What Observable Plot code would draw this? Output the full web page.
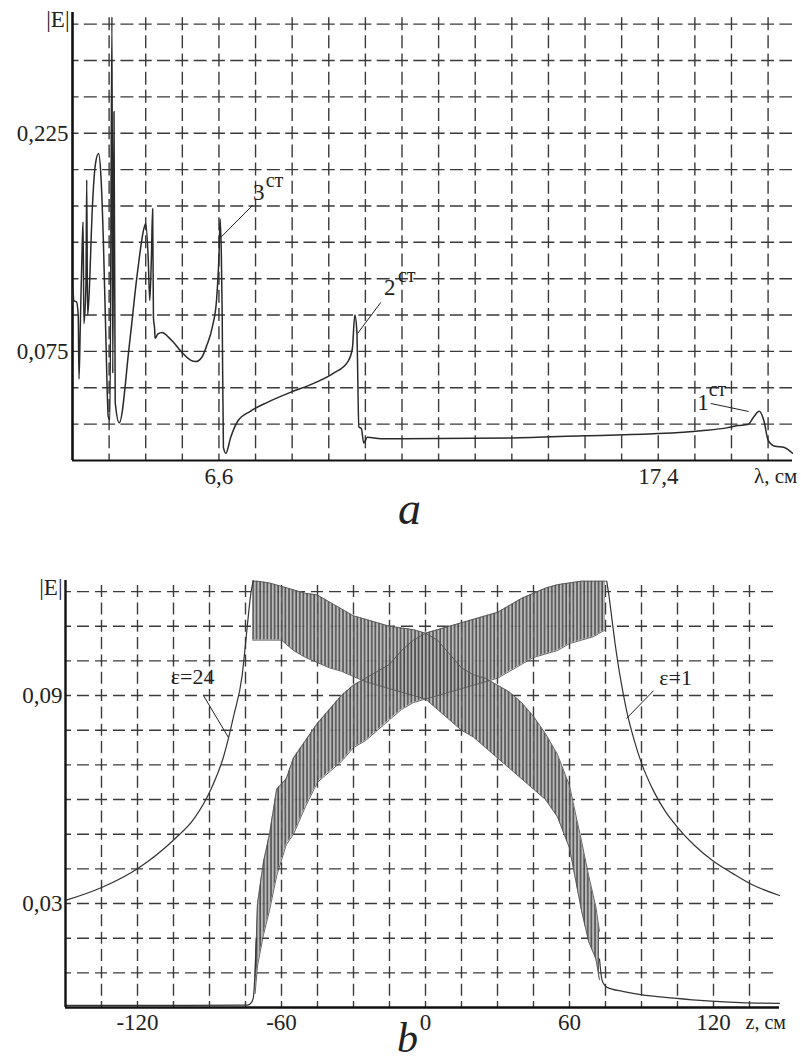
<!DOCTYPE html>
<html>
<head>
<meta charset="utf-8">
<script src="https://cdn.jsdelivr.net/npm/d3@7"></script>
<script src="https://cdn.jsdelivr.net/npm/@observablehq/plot@0.6"></script>
<style>
  body { margin: 0; background: #fff; }
  #wrap { position: relative; width: 801px; height: 1063px; font-family: "Liberation Serif", "Times New Roman", serif; color: #222; }
  .plab { position: absolute; font-style: italic; line-height: 1; color: #222; }
</style>
</head>
<body>
<div id="wrap"></div>
<script>
// ---------- Panel a : |E| versus wavelength λ, cm ----------
const aLambda = [3.00, 3.01, 3.03, 3.10, 3.14, 3.16, 3.19, 3.24, 3.26, 3.28, 3.33, 3.35, 3.37, 3.40, 3.49, 3.56, 3.64, 3.70, 3.76, 3.82, 3.88, 3.92, 3.97, 3.99, 4.02, 4.05, 4.15, 4.40, 4.60, 4.76, 4.80, 4.86, 4.90, 4.94, 4.97, 4.99, 5.02, 5.03, 5.10, 5.21, 5.35, 5.46, 5.70, 5.90, 6.03, 6.18, 6.30, 6.44, 6.54, 6.60, 6.63, 6.66, 6.68, 6.71, 6.77, 6.89, 7.06, 7.38, 7.79, 8.37, 8.93, 9.42, 9.77, 9.88, 9.94, 9.99, 10.04, 10.10, 10.16, 10.25, 10.58, 11.07, 13.78, 15.57, 17.39, 18.45, 19.11, 19.35, 19.60, 19.75, 19.88, 20.00, 20.10, 20.25, 20.50, 20.70];
const aE = [0.107, 0.118, 0.110, 0.109, 0.100, 0.056, 0.090, 0.150, 0.164, 0.094, 0.120, 0.193, 0.100, 0.110, 0.175, 0.203, 0.211, 0.195, 0.150, 0.085, 0.030, 0.028, 0.305, 0.060, 0.240, 0.040, 0.026, 0.080, 0.130, 0.160, 0.163, 0.140, 0.110, 0.140, 0.173, 0.098, 0.090, 0.084, 0.087, 0.088, 0.085, 0.082, 0.074, 0.069, 0.068, 0.071, 0.079, 0.092, 0.110, 0.140, 0.166, 0.140, 0.100, 0.009, 0.005, 0.016, 0.027, 0.034, 0.040, 0.047, 0.053, 0.060, 0.068, 0.077, 0.100, 0.089, 0.023, 0.022, 0.012, 0.016, 0.015, 0.015, 0.0155, 0.017, 0.0185, 0.0205, 0.0226, 0.024, 0.0247, 0.030, 0.0338, 0.027, 0.014, 0.010, 0.009, 0.005];
const aGridX = [3.9, 4.8, 5.7, 6.6, 7.5, 8.4, 9.3, 10.2, 11.1, 12.0, 12.9, 13.8, 14.7, 15.6, 16.5, 17.4, 18.3, 19.2, 20.1];
const aGridY = [0.025, 0.05, 0.075, 0.1, 0.125, 0.15, 0.175, 0.2, 0.225, 0.25, 0.275, 0.3];
const aTickX = [6.6, 17.4];
const aTickXText = ["6,6", "17,4"];
const aTickY = [0.075, 0.225];
const aTickYText = ["0,075", "0,225"];
const aAnnText = ["3", "2", "1"];
const aAnnX = [7.58, 10.80, 18.50];
const aAnnY = [0.1844, 0.1187, 0.0399];
const aSupX = [7.75, 11.0, 18.64];
const aSupY = [0.1926, 0.127, 0.0488];
const aLeadX1 = [7.43, 10.58, 18.69];
const aLeadY1 = [0.1755, 0.1087, 0.0392];
const aLeadX2 = [6.65, 10.01, 19.62];
const aLeadY2 = [0.1535, 0.0874, 0.0337];

// ---------- Panel b : |E| versus z, cm ----------
const eps24Z = [-150, -134.7, -119.7, -104.4, -96.5, -89.3, -84, -79.9, -76.4, -74.3, -72.9, -71.8];
const eps24E = [0.0309, 0.0347, 0.0402, 0.0487, 0.0544, 0.0631, 0.0727, 0.0842, 0.0958, 0.1097, 0.1188, 0.1232];
const band1Z  = [-72, -70, -65, -60, -55, -50, -45, -40, -35, -30, -25, -20, -15, -10, -5, 0, 5, 10, 15, 20, 25, 30, 35, 40, 45, 50, 55, 60, 65, 68, 71, 72.5];
const band1Hi = [0.123, 0.123, 0.1225, 0.1215, 0.1205, 0.1195, 0.119, 0.117, 0.115, 0.113, 0.112, 0.111, 0.110, 0.1095, 0.109, 0.108, 0.106, 0.102, 0.098, 0.096, 0.095, 0.093, 0.091, 0.088, 0.084, 0.079, 0.073, 0.064, 0.048, 0.038, 0.029, 0.022];
const band1Lo = [0.106, 0.106, 0.106, 0.106, 0.103, 0.101, 0.0995, 0.098, 0.097, 0.0955, 0.094, 0.093, 0.092, 0.091, 0.090, 0.089, 0.086, 0.083, 0.080, 0.078, 0.075, 0.072, 0.069, 0.066, 0.063, 0.060, 0.055, 0.046, 0.028, 0.019, 0.014, 0.008];
const tail1Z = [72.5, 73.6, 75.7, 82.6, 89.6, 103.5, 117.4, 131.3, 147.5];
const tail1E = [0.014, 0.0078, 0.0058, 0.0046, 0.0037, 0.0027, 0.0019, 0.0014, 0.0012];
const flat2Z = [-150, -100, -74, -72.5, -71.8, -71.1, -70.5];
const flat2E = [0.0006, 0.0006, 0.0007, 0.0015, 0.0026, 0.009, 0.020];
const band2Z  = [-71, -70, -67.5, -65, -62, -58, -55, -50, -45, -40, -35, -30, -25, -20, -15, -10, -5, 0, 5, 10, 15, 20, 25, 30, 35, 40, 45, 50, 55, 60, 65, 70, 75];
const band2Hi = [0.009, 0.030, 0.042, 0.050, 0.063, 0.066, 0.072, 0.077, 0.082, 0.086, 0.090, 0.093, 0.095, 0.097, 0.099, 0.103, 0.106, 0.108, 0.109, 0.110, 0.111, 0.112, 0.113, 0.114, 0.116, 0.118, 0.1195, 0.121, 0.122, 0.1225, 0.123, 0.123, 0.123];
const band2Lo = [0.004, 0.012, 0.021, 0.028, 0.038, 0.047, 0.050, 0.058, 0.065, 0.068, 0.071, 0.075, 0.077, 0.080, 0.083, 0.086, 0.088, 0.089, 0.090, 0.091, 0.092, 0.093, 0.094, 0.095, 0.097, 0.099, 0.101, 0.102, 0.103, 0.105, 0.106, 0.107, 0.109];
const eps1Z = [75.5, 76.5, 77.7, 79, 80.5, 82, 84, 87, 90, 95, 100, 105, 112, 120, 128, 136, 147.5];
const eps1E = [0.123, 0.1185, 0.112, 0.105, 0.098, 0.092, 0.085, 0.077, 0.0705, 0.0625, 0.0565, 0.052, 0.0468, 0.0422, 0.0387, 0.0355, 0.0323];
const bGridX = [-135, -120, -105, -90, -75, -60, -45, -30, -15, 0, 15, 30, 45, 60, 75, 90, 105, 120, 135];
const bGridY = [0.01, 0.02, 0.03, 0.04, 0.05, 0.06, 0.07, 0.08, 0.09, 0.10, 0.11, 0.12];
const bTickX = [-120, -60, 0, 60, 120];
const bTickXText = ["-120", "-60", "0", "60", "120"];
const bTickY = [0.03, 0.09];
const bTickYText = ["0,03", "0,09"];
const bAnnText = ["ε=24", "ε=1"];
const bAnnX = [-97, 104.2];
const bAnnY = [0.0955, 0.0952];
const bLeadX1 = [-92.5, 95];
const bLeadY1 = [0.090, 0.0914];
const bLeadX2 = [-82.1, 83.75];
const bLeadY2 = [0.0779, 0.0834];

// ---------- helpers ----------
const FONT = '"Liberation Serif", "Times New Roman", serif';
const INK = "#222";
const GRID = "#3a3a3a";
const zip2 = (xs, ys) => xs.map((x, i) => ({x, y: ys[i]}));
function dashOffset(s0, d, P) { return (((d / 2 - s0) % P) + P) % P; }
const T = (o) => Object.assign({fontFamily: FONT, fill: INK, fontSize: 23}, o);

function panel(cfg) {
  const {W, H, mL, mR, mT, mB, xDom, yDom, gx, gy, dash} = cfg;
  const pxX = (W - mL - mR) / (xDom[1] - xDom[0]);
  const pxY = (H - mT - mB) / (yDom[1] - yDom[0]);
  const Pv = (gx[1] - gx[0]) * pxX / 2;
  const Ph = (gy[1] - gy[0]) * pxY / 2;
  const s0 = (yDom[1] - gy[gy.length - 1]) * pxY;
  return {
    hRule: {stroke: GRID, strokeWidth: 1.4, strokeDasharray: `${dash},${Pv - dash}`, strokeDashoffset: dashOffset(0, dash, Pv)},
    vRule: {stroke: GRID, strokeWidth: 1.4, strokeDasharray: `${dash},${Ph - dash}`, strokeDashoffset: dashOffset(s0, dash, Ph)}
  };
}

const wrap = document.getElementById("wrap");

// ---------- draw panel a ----------
const A = {W: 801, H: 490, mL: 72, mR: 9, mT: 12, mB: 30, xDom: [3, 20.7], yDom: [0, 0.308], gx: aGridX, gy: aGridY, dash: 13};
const gA = panel(A);
const aLine = zip2(aLambda, aE);
const svgA = Plot.plot({
  width: A.W, height: A.H,
  marginLeft: A.mL, marginRight: A.mR, marginTop: A.mT, marginBottom: A.mB,
  style: {fontFamily: FONT, fontSize: "23px", color: INK, background: "transparent", overflow: "visible"},
  x: {domain: A.xDom, axis: null},
  y: {domain: A.yDom, axis: null},
  marks: [
    Plot.ruleX(aGridX, gA.vRule),
    Plot.ruleY(aGridY, gA.hRule),
    Plot.ruleX([A.xDom[0]], {stroke: "#111", strokeWidth: 2.6}),
    Plot.ruleY([0], {stroke: "#111", strokeWidth: 2.2}),
    Plot.line(aLine, {x: "x", y: "y", stroke: "#2a2a2a", strokeWidth: 1.5, curve: "monotone-x"}),
    Plot.text(aTickX, T({x: d => d, y: 0, text: (d, i) => aTickXText[i], dy: 16})),
    Plot.text(aTickY, T({x: A.xDom[0], y: d => d, text: (d, i) => aTickYText[i], textAnchor: "end", dx: -4})),
    Plot.text(["|E|"], T({x: A.xDom[0], y: 0.3, text: d => d, textAnchor: "end", dx: -3, dy: -5})),
    Plot.text(["λ, см"], T({x: 20.1, y: 0, text: d => d, textAnchor: "start", dx: -14, dy: 16, fontSize: 21})),
    Plot.link(aLeadX1, {x1: d => d, y1: (d, i) => aLeadY1[i], x2: (d, i) => aLeadX2[i], y2: (d, i) => aLeadY2[i], stroke: "#222", strokeWidth: 1}),
    Plot.text(aAnnText, T({x: (d, i) => aAnnX[i], y: (d, i) => aAnnY[i], text: d => d})),
    Plot.text(aAnnText, T({x: (d, i) => aSupX[i], y: (d, i) => aSupY[i], text: () => "ст", textAnchor: "start", fontSize: 20}))
  ]
});
svgA.style.position = "absolute"; svgA.style.left = "0px"; svgA.style.top = "0px";
wrap.appendChild(svgA);

// ---------- draw panel b ----------
const B = {W: 801, H: 492, mL: 65, mR: 22, mT: 35, mB: 30, xDom: [-150, 147.5], yDom: [0, 0.1232], gx: bGridX, gy: bGridY, dash: 12};
const gB = panel(B);
const band1 = band1Z.map((z, i) => ({z, lo: band1Lo[i], hi: band1Hi[i]}));
const band2 = band2Z.map((z, i) => ({z, lo: band2Lo[i], hi: band2Hi[i]}));
const stripeDefs = () => {
  const ns = "http://www.w3.org/2000/svg";
  const defs = document.createElementNS(ns, "defs");
  defs.innerHTML = '<pattern id="osc" patternUnits="userSpaceOnUse" width="3.6" height="8">' +
    '<rect width="3.6" height="8" fill="#b4b4b4"/>' +
    '<line x1="1" y1="0" x2="1" y2="8" stroke="#3c3c3c" stroke-width="1.5"/></pattern>';
  return defs;
};
const svgB = Plot.plot({
  width: B.W, height: B.H,
  marginLeft: B.mL, marginRight: B.mR, marginTop: B.mT, marginBottom: B.mB,
  style: {fontFamily: FONT, fontSize: "23px", color: INK, background: "transparent", overflow: "visible"},
  x: {domain: B.xDom, axis: null},
  y: {domain: B.yDom, axis: null},
  marks: [
    stripeDefs,
    Plot.ruleX(bGridX, gB.vRule),
    Plot.ruleY(bGridY, gB.hRule),
    Plot.areaY(band1, {x: "z", y1: "lo", y2: "hi", fill: "url(#osc)", fillOpacity: 0.92}),
    Plot.areaY(band2, {x: "z", y1: "lo", y2: "hi", fill: "url(#osc)", fillOpacity: 0.92}),
    Plot.line(band1, {x: "z", y: "hi", stroke: "#555", strokeWidth: 0.9}),
    Plot.line(band1, {x: "z", y: "lo", stroke: "#555", strokeWidth: 0.9}),
    Plot.line(band2, {x: "z", y: "hi", stroke: "#555", strokeWidth: 0.9}),
    Plot.line(band2, {x: "z", y: "lo", stroke: "#555", strokeWidth: 0.9}),
    Plot.line(zip2(eps24Z, eps24E), {x: "x", y: "y", stroke: "#333", strokeWidth: 1.2, curve: "monotone-x"}),
    Plot.line(zip2(eps1Z, eps1E), {x: "x", y: "y", stroke: "#333", strokeWidth: 1.2, curve: "monotone-x"}),
    Plot.line(zip2(tail1Z, tail1E), {x: "x", y: "y", stroke: "#333", strokeWidth: 1.2, curve: "monotone-x"}),
    Plot.line(zip2(flat2Z, flat2E), {x: "x", y: "y", stroke: "#333", strokeWidth: 1.2, curve: "monotone-x"}),
    Plot.ruleX([B.xDom[0]], {stroke: "#111", strokeWidth: 2.4}),
    Plot.ruleY([0], {stroke: "#111", strokeWidth: 2.4}),
    Plot.text(bTickX, T({x: d => d, y: 0, text: (d, i) => bTickXText[i], dy: 15})),
    Plot.text(bTickY, T({x: B.xDom[0], y: d => d, text: (d, i) => bTickYText[i], textAnchor: "end", dx: -3})),
    Plot.text(["|E|"], T({x: B.xDom[0], y: 0.12, text: d => d, textAnchor: "end", dx: -3, dy: -4})),
    Plot.text(["z, см"], T({x: 135, y: 0, text: d => d, textAnchor: "start", dx: -4, dy: 15, fontSize: 20})),
    Plot.link(bLeadX1, {x1: d => d, y1: (d, i) => bLeadY1[i], x2: (d, i) => bLeadX2[i], y2: (d, i) => bLeadY2[i], stroke: "#222", strokeWidth: 1}),
    Plot.text(bAnnText, T({x: (d, i) => bAnnX[i], y: (d, i) => bAnnY[i], text: d => d, fontSize: 22}))
  ]
});
svgB.style.position = "absolute"; svgB.style.left = "0px"; svgB.style.top = "545px";
wrap.appendChild(svgB);

// ---------- panel letters ----------
const la = document.createElement("div");
la.className = "plab"; la.textContent = "a"; la.style.fontSize = "46px"; la.style.left = "398px"; la.style.top = "486px";
wrap.appendChild(la);
const lb = document.createElement("div");
lb.className = "plab"; lb.textContent = "b"; lb.style.fontSize = "42px"; lb.style.left = "397px"; lb.style.top = "1017px";
wrap.appendChild(lb);
</script>
</body>
</html>
